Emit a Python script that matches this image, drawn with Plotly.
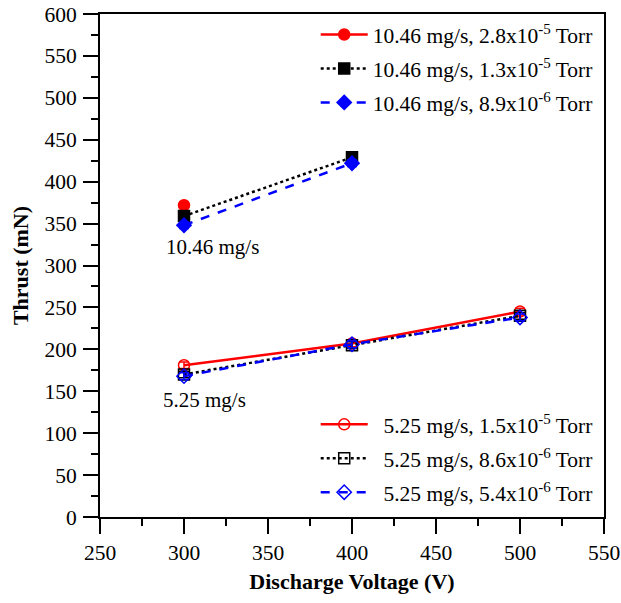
import plotly.graph_objects as go

voltage = [300, 400, 500]

hi_red = [372]
hi_red_v = [300]
hi_black = [359, 429]
hi_blue = [348, 422]
hi_v = [300, 400]

lo_red = [181, 207, 245]
lo_black = [170, 205, 240]
lo_blue = [168, 206, 238]

err = 4

names_hi = ["10.46 mg/s, 2.8x10<sup>-5</sup> Torr",
            "10.46 mg/s, 1.3x10<sup>-5</sup> Torr",
            "10.46 mg/s, 8.9x10<sup>-6</sup> Torr"]
names_lo = ["&nbsp;&nbsp;5.25 mg/s, 1.5x10<sup>-5</sup> Torr",
            "&nbsp;&nbsp;5.25 mg/s, 8.6x10<sup>-6</sup> Torr",
            "&nbsp;&nbsp;5.25 mg/s, 5.4x10<sup>-6</sup> Torr"]

FONT = "Liberation Serif, Times New Roman, serif"

fig = go.Figure()

def add(x, y, name, color, dash, symbol, legend, group):
    fig.add_trace(go.Scatter(
        x=x, y=y, name=name, mode="lines+markers",
        line=dict(color=color, width=2.5, dash=dash),
        marker=dict(symbol=symbol, size=11, color=color,
                    line=dict(color=color, width=1.5)),
        error_y=dict(type="constant", value=err, color=color, thickness=1.5, width=5),
        legend=legend, legendgroup=group,
    ))

add(hi_red_v, hi_red, names_hi[0], "#ff0000", "solid", "circle", "legend", "a")
add(hi_v, hi_black, names_hi[1], "#000000", "dot", "square", "legend", "b")
add(hi_v, hi_blue, names_hi[2], "#0000ff", "dash", "diamond", "legend", "c")
add(voltage, lo_red, names_lo[0], "#ff0000", "solid", "circle-open", "legend2", "d")
add(voltage, lo_black, names_lo[1], "#000000", "dot", "square-open", "legend2", "e")
add(voltage, lo_blue, names_lo[2], "#0000ff", "dash", "diamond-open", "legend2", "f")

fig.add_annotation(x=300, y=322, text="10.46 mg/s", showarrow=False,
                   font=dict(family=FONT, size=21, color="black"), xanchor="left", xshift=-20)
fig.add_annotation(x=300, y=140, text="5.25 mg/s", showarrow=False,
                   font=dict(family=FONT, size=21, color="black"), xanchor="left", xshift=-23)

axis_common = dict(
    showgrid=False, zeroline=False, showline=True, linecolor="black", linewidth=2,
    mirror=True, ticks="outside", ticklen=15, tickwidth=2, tickcolor="black",
    tickfont=dict(family=FONT, size=21.5, color="black"),
)

fig.update_layout(
    width=621, height=603,
    margin=dict(l=100, r=17, t=14, b=86, autoexpand=False),
    plot_bgcolor="white", paper_bgcolor="white",
    showlegend=True,
    xaxis=dict(range=[250, 550], dtick=50, tick0=250, ticklabelstandoff=0,
               minor=dict(ticks="outside", ticklen=7, tickwidth=2, tickcolor="black", dtick=25),
               title=dict(text="<b>Discharge Voltage (V)</b>", standoff=10,
                          font=dict(family=FONT, size=22, color="black")),
               **axis_common),
    yaxis=dict(range=[0, 600], dtick=50, ticklabelstandoff=2,
               minor=dict(ticks="outside", ticklen=7, tickwidth=2, tickcolor="black", dtick=25),
               title=dict(text="<b>Thrust (mN)</b>", standoff=10,
                          font=dict(family=FONT, size=22, color="black")),
               **axis_common),
    legend=dict(x=0.428, y=1.0, xanchor="left", yanchor="top",
                font=dict(family=FONT, size=21.5, color="black"),
                bgcolor="rgba(0,0,0,0)", itemwidth=47, tracegroupgap=3,
                traceorder="grouped"),
    legend2=dict(x=0.428, y=0.225, xanchor="left", yanchor="top",
                 font=dict(family=FONT, size=21.5, color="black"),
                 bgcolor="rgba(0,0,0,0)", itemwidth=47, tracegroupgap=3,
                 traceorder="grouped"),
)

fig.write_html("out.html")
